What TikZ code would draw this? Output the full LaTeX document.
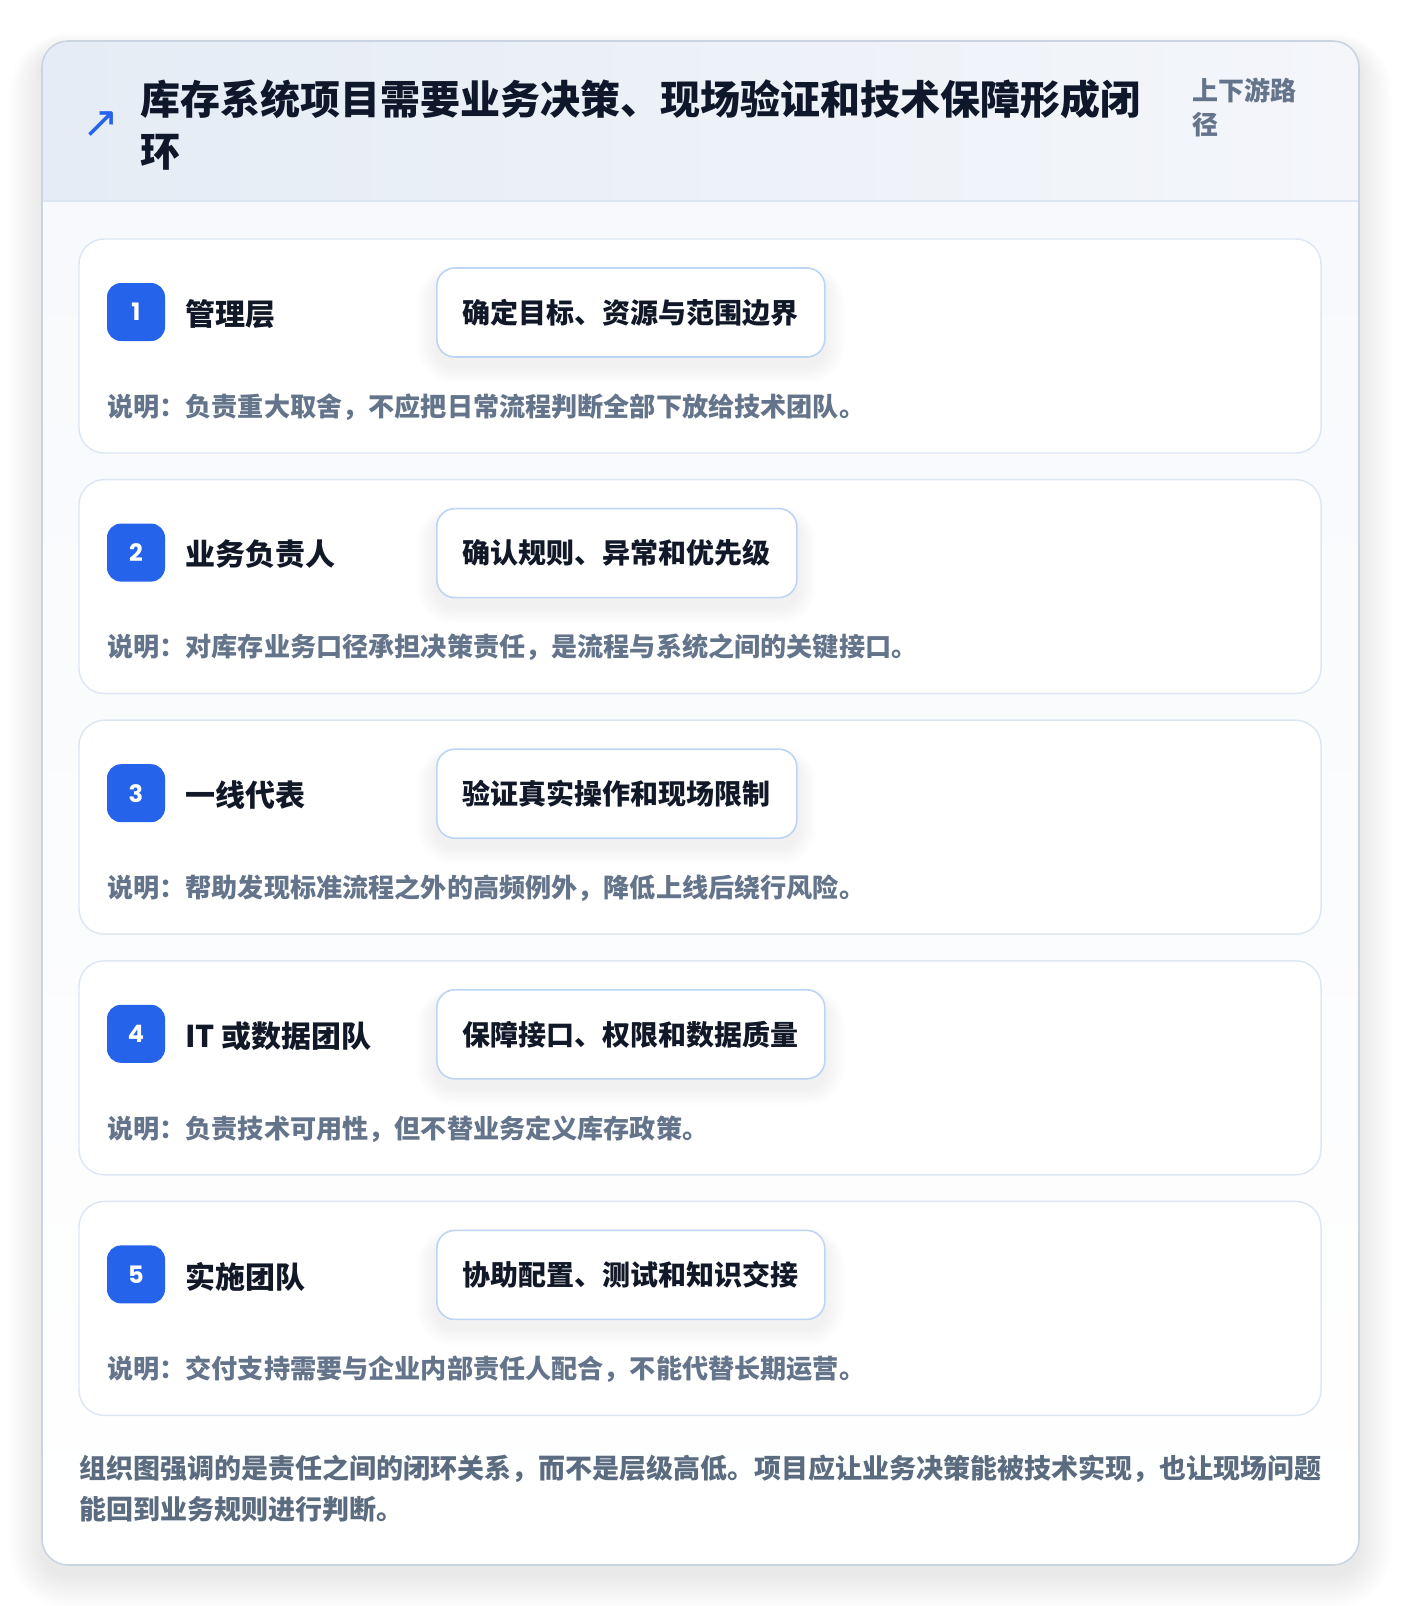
\documentclass[tikz,border=0pt]{standalone}
\usepackage{fontspec}
\setmainfont{Noto Sans CJK SC}
\newfontfamily\symfont{DejaVu Sans}
\newfontfamily\numfont{Poppins}
\usetikzlibrary{calc}
\definecolor{titlec}{HTML}{0F172A}
\definecolor{greyc}{HTML}{64748B}
\definecolor{footc}{HTML}{5B6B80}
\definecolor{rolec}{HTML}{111827}
\definecolor{boxb}{HTML}{BCD5F5}
\definecolor{cardb}{HTML}{DDE7F4}
\definecolor{outerb}{HTML}{CBD5E1}
\definecolor{badgec}{HTML}{2563EB}
\definecolor{headl}{HTML}{E5ECF5}
\definecolor{headr}{HTML}{F4F6FA}
\definecolor{bodyt}{HTML}{F7F9FC}
\definecolor{headline}{HTML}{DCE6F2}
\definecolor{shadowc}{HTML}{1E293B}
\pgfdeclarelayer{cardl}
\pgfdeclarelayer{shadowl}
\pgfsetlayers{cardl,shadowl,main}
\tikzset{
  cardbox/.style={draw=cardb, line width=1.1pt, fill=white, rounded corners=19pt},
  badgebox/.style={fill=badgec, rounded corners=10.5pt, minimum width=43.5pt, minimum height=43.5pt, inner sep=0pt, text=white, font=\numfont\fontsize{18}{19}\selectfont\bfseries},
  rolelabel/.style={anchor=west, inner sep=0pt, text=rolec, font=\fontsize{22.5}{26}\selectfont\bfseries},
  taskbox/.style={anchor=west, draw=boxb, line width=1.2pt, fill=white, rounded corners=13.5pt, minimum height=66.75pt, inner xsep=19.5pt, text=rolec, font=\fontsize{21}{24}\selectfont\bfseries},
  desclabel/.style={anchor=west, inner sep=0pt, text=greyc, font=\fontsize{19.6}{22}\selectfont\bfseries},
  shadowpiece/.style={fill=shadowc, opacity=#1}
}
\begin{document}
\begin{tikzpicture}[x=0.75pt,y=-0.75pt]
\useasboundingbox (0,0) rectangle (1400,1606);
\begin{pgfonlayer}{cardl}
\fill[white] (0,0) rectangle (1400,1606);
% outer card shadow
\foreach \k in {1,...,22}{
  \pgfmathsetmacro{\rr}{19.5+\k*1.1}
  \fill[shadowpiece=0.005, rounded corners=\rr pt] (42-\k*1.5,41-\k*0.8+10) rectangle (1359+\k*1.5,1565+\k*1.5+10);
}
\fill[white, rounded corners=19.5pt] (42,41) rectangle (1359,1565);
\begin{scope}
  \clip[rounded corners=19.5pt] (42,41) rectangle (1359,1565);
  \shade[left color=headl, right color=headr] (42,41) rectangle (1359,201);
  \shade[top color=bodyt, bottom color=white] (42,201) rectangle (1359,1565);
  \draw[headline, line width=1pt] (42,201) -- (1359,201);
\end{scope}
\draw[outerb, line width=1.2pt, rounded corners=19.5pt] (42,41) rectangle (1359,1565);
\end{pgfonlayer}
% header
\node[inner sep=0pt, text=badgec, font=\symfont\fontsize{33}{34}\selectfont] (icon) at (101,125) {↗};
\node[anchor=west, inner sep=0pt, align=left, text=titlec, font=\fontsize{30}{39}\selectfont\bfseries] (title) at (140,125) {库存系统项目需要业务决策、现场验证和技术保障形成闭\\环};
\node[anchor=west, inner sep=0pt, align=left, text=greyc, font=\fontsize{19.5}{25.5}\selectfont\bfseries] (side) at (1192,107) {上下游路\\径};
% cards
\foreach \i/\role/\task/\desc in {
  1/管理层/确定目标、资源与范围边界/说明：负责重大取舍，不应把日常流程判断全部下放给技术团队。,
  2/业务负责人/确认规则、异常和优先级/说明：对库存业务口径承担决策责任，是流程与系统之间的关键接口。,
  3/一线代表/验证真实操作和现场限制/说明：帮助发现标准流程之外的高频例外，降低上线后绕行风险。,
  4/IT 或数据团队/保障接口、权限和数据质量/说明：负责技术可用性，但不替业务定义库存政策。,
  5/实施团队/协助配置、测试和知识交接/说明：交付支持需要与企业内部责任人配合，不能代替长期运营。}{
  \pgfmathsetmacro{\T}{239+(\i-1)*240.6}
  \begin{pgfonlayer}{cardl}
    \draw[cardbox] (79,\T) rectangle (1321,\T+214);
  \end{pgfonlayer}
  \node[badgebox] (badge\i) at (136,\T+73) {\raisebox{-0.5pt}{\i}};
  \node[rolelabel] (role\i) at (185,\T+75) {\role};
  \node[taskbox] (task\i) at (436,\T+73.5) {\task};
  \node[desclabel] (desc\i) at (107,\T+168) {\desc};
  \begin{pgfonlayer}{shadowl}
    \foreach \k in {1,...,14}{
      \pgfmathsetmacro{\rr}{13.5+\k*1.1}
      \fill[shadowpiece=0.0055, rounded corners=\rr pt] ($(task\i.north west)+(-\k*1.4,8-\k*0.7)$) rectangle ($(task\i.south east)+(\k*1.4,8+\k*1.3)$);
    }
  \end{pgfonlayer}
}
% footer
\node[anchor=west, inner sep=0pt, align=left, text=footc, font=\fontsize{20.25}{30.75}\selectfont\bfseries] (foot) at (79,1488.5) {组织图强调的是责任之间的闭环关系，而不是层级高低。项目应让业务决策能被技术实现，也让现场问题\\能回到业务规则进行判断。};
\end{tikzpicture}
\end{document}
